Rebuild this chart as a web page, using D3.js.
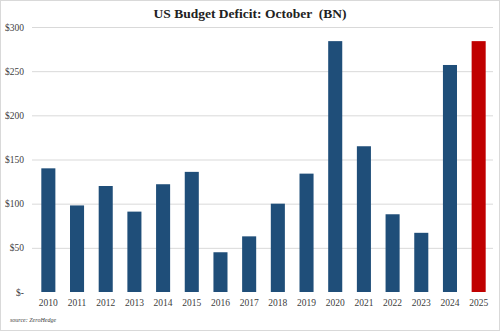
<!DOCTYPE html>
<html><head><meta charset="utf-8">
<script src="https://cdn.jsdelivr.net/npm/d3@7"></script>
<style>html,body{margin:0;padding:0;background:#fff;}</style>
</head><body>
<svg id="chart" width="500" height="331"></svg>
<script>
const years = ["2010","2011","2012","2013","2014","2015","2016","2017","2018","2019","2020","2021","2022","2023","2024","2025"];
const deficits = [140, 98, 120, 91, 122, 136, 45, 63, 100, 134, 284, 165, 88, 67, 257, 284];
const highlightYear = "2025";
const yTicks = [0, 50, 100, 150, 200, 250, 300];
const titleText = "US Budget Deficit: October  (BN)";
const sourceText = "source: ZeroHedge";

const svg = d3.select("#chart");
const W = 500, H = 331;
const m = {top: 27, right: 7, bottom: 39, left: 34};

svg.append("rect").attr("x", 0.5).attr("y", 0.5).attr("width", W - 1).attr("height", H - 1)
  .attr("fill", "#fff").attr("stroke", "#d9d9d9");

const x = d3.scaleBand().domain(years).range([m.left, W - m.right]).paddingInner(0.51).paddingOuter(0.255);
const y = d3.scaleLinear().domain([0, 300]).range([H - m.bottom, m.top]);

// gridlines
svg.append("g").selectAll("line").data(yTicks.filter(d => d > 0)).join("line")
  .attr("x1", m.left - 2).attr("x2", W - m.right)
  .attr("y1", d => y(d) + 0.5).attr("y2", d => y(d) + 0.5)
  .attr("stroke", "#d9d9d9").attr("stroke-width", 1);

// y axis
const yAxis = d3.axisLeft(y).tickValues(yTicks).tickSize(0).tickPadding(0)
  .tickFormat(d => d === 0 ? "$-" : "$" + d);
const gy = svg.append("g").attr("transform", `translate(24,0)`).call(yAxis);
gy.select(".domain").remove();
gy.selectAll("text").attr("font-family", "Liberation Serif, serif").attr("font-size", 9.5).attr("fill", "#404040");

// bars
svg.append("g").selectAll("rect").data(years).join("rect")
  .attr("x", d => x(d)).attr("width", x.bandwidth())
  .attr("y", (d, i) => y(deficits[i])).attr("height", (d, i) => y(0) - y(deficits[i]))
  .attr("fill", d => d === highlightYear ? "#c00000" : "#1f4e79");

// x axis
const xAxis = d3.axisBottom(x).tickSize(0).tickPadding(7);
const gx = svg.append("g").attr("transform", `translate(0,${y(0)})`).call(xAxis);
gx.select(".domain").remove();
gx.selectAll("text").attr("font-family", "Liberation Serif, serif").attr("font-size", 9.5).attr("fill", "#404040");

// title
svg.append("text").attr("x", 250).attr("y", 18).attr("text-anchor", "middle")
  .attr("font-family", "Liberation Serif, serif").attr("font-weight", "bold").attr("font-size", 13.5)
  .attr("fill", "#222").style("white-space", "pre").text(titleText);

// source
svg.append("text").attr("x", 10).attr("y", 322)
  .attr("font-family", "Liberation Serif, serif").attr("font-style", "italic").attr("font-size", 6)
  .attr("fill", "#404040").text(sourceText);
</script>
</body></html>
